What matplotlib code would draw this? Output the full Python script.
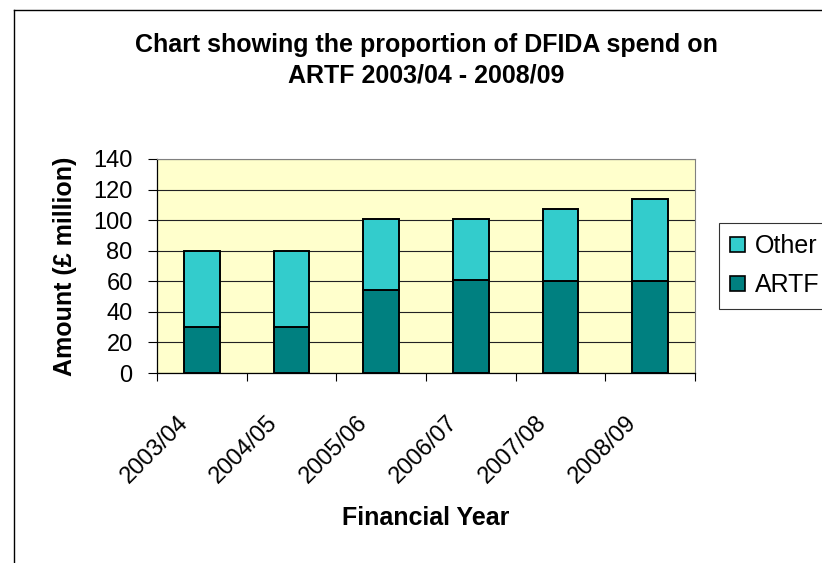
import numpy as np
import matplotlib
matplotlib.use("Agg")
import matplotlib.pyplot as plt
import matplotlib.transforms as mtransforms
from matplotlib.patches import Patch
from matplotlib.lines import Line2D

years = ["2003/04", "2004/05", "2005/06", "2006/07", "2007/08", "2008/09"]
artf = [30, 30, 54, 61, 60, 60]
other = [50, 50, 47, 40, 47, 54]

ARTF_COL = "#008080"
OTHER_COL = "#33CCCC"

plt.rcParams["font.family"] = ["Liberation Sans", "DejaVu Sans"]

W, H = 822, 563
fig = plt.figure(figsize=(W / 100, H / 100), dpi=100)
ax = fig.add_axes([157 / W, 1 - 373 / H, (695 - 157) / W, (373 - 159) / H])
ax.set_facecolor("#FFFFCC")

x = np.arange(len(years))
ax.bar(x, artf, width=0.4, color=ARTF_COL, edgecolor="black", linewidth=1.4, zorder=3)
ax.bar(x, other, bottom=artf, width=0.4, color=OTHER_COL, edgecolor="black", linewidth=1.4, zorder=3)

ax.set_xlim(-0.5, len(years) - 0.5)
ax.set_ylim(0, 140)
ax.set_yticks(np.arange(0, 141, 20))
ax.yaxis.grid(True, color="#222222", linewidth=0.8, zorder=1)
ax.tick_params(axis="y", direction="out", length=6.5, width=0.8, pad=11, labelsize=17)

# category ticks sit between the bars, labels at bar centres
ax.set_xticks(np.arange(-0.5, len(years), 1.0))
ax.set_xticklabels([])
ax.set_xticks(x, minor=True)
ax.set_xticklabels(years, minor=True, rotation=45, ha="right", va="center",
                   rotation_mode="anchor", fontsize=17)
ax.tick_params(axis="x", which="major", direction="out", length=6, width=0.8)
ax.tick_params(axis="x", which="minor", length=0, pad=30)
shift = mtransforms.ScaledTranslation(-0.17, -0.05, fig.dpi_scale_trans)
for lbl in ax.get_xticklabels(minor=True):
    lbl.set_transform(lbl.get_transform() + shift)

for s in ("top", "right"):
    ax.spines[s].set_color("#808080")
ax.spines["left"].set_linewidth(0.9)
ax.spines["bottom"].set_linewidth(0.9)

ax.set_ylabel("Amount (£ million)", fontsize=18, fontweight="bold", labelpad=12)
fig.text(426 / W, 1 - 518 / H, "Financial Year", fontsize=18, fontweight="bold",
         ha="center", va="center")
fig.text(426 / W, 1 - 60 / H, "Chart showing the proportion of DFIDA spend on\nARTF 2003/04 - 2008/09",
         fontsize=18, fontweight="bold", ha="center", va="center", linespacing=1.35)

handles = [Patch(facecolor=OTHER_COL, edgecolor="black", linewidth=1.2, label="Other"),
           Patch(facecolor=ARTF_COL, edgecolor="black", linewidth=1.2, label="ARTF")]
leg = fig.legend(handles=handles, loc="upper left", bbox_to_anchor=(719 / W, 1 - 223 / H),
                 borderaxespad=0, fontsize=18, frameon=True, fancybox=False,
                 handlelength=0.6, handleheight=0.6, handletextpad=0.4,
                 labelspacing=0.6, borderpad=0.45)
leg.get_frame().set_edgecolor("black")
leg.get_frame().set_linewidth(0.8)

# outer chart border (left and top edges visible)
fig.add_artist(Line2D([14 / W, 14 / W], [0, 1 - 10 / H], color="black", linewidth=1))
fig.add_artist(Line2D([14 / W, 1], [1 - 10 / H, 1 - 10 / H], color="black", linewidth=1))

fig.savefig("out.png", dpi=100)
